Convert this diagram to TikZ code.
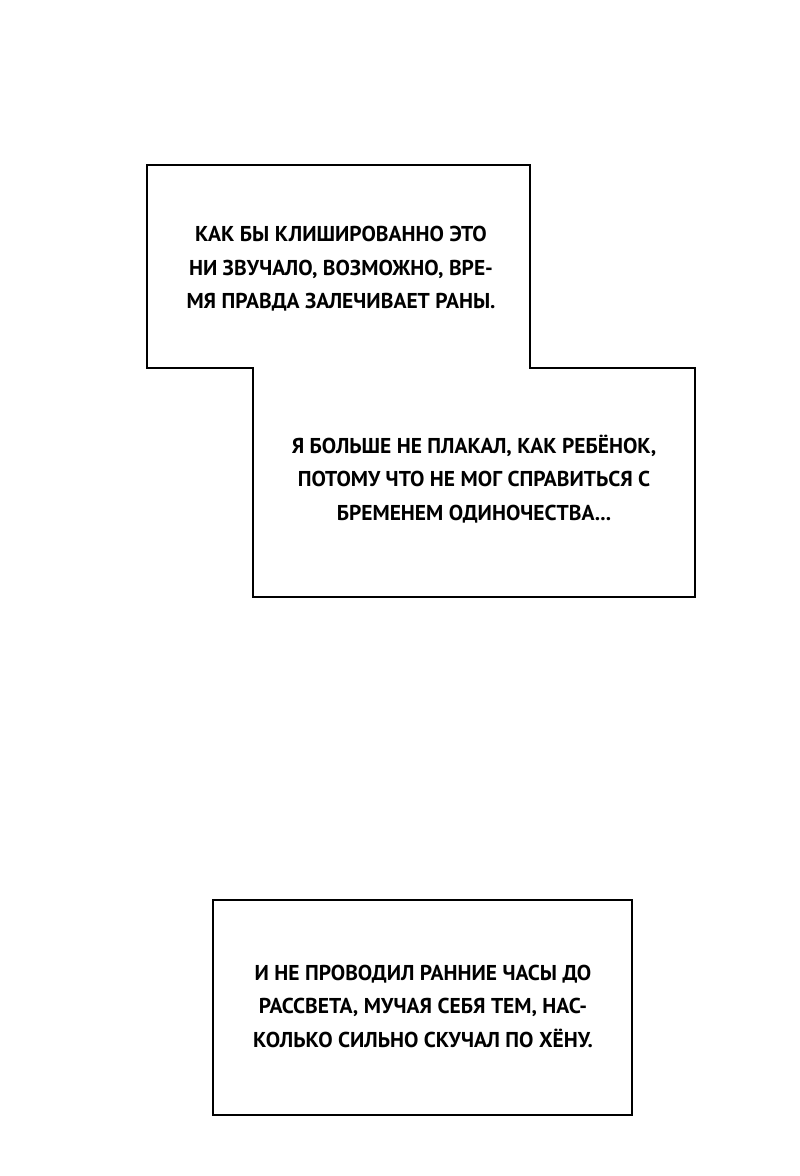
\documentclass[tikz,border=0pt]{standalone}
\usepackage{fontspec}
\setmainfont{PT Sans}
\begin{document}
\begin{tikzpicture}[x=1pt,y=-1pt,
  box/.style={draw=black,line width=2.4pt,line join=miter},
  txt/.style={align=center,font=\bfseries\fontsize{21.5}{33.5}\selectfont,inner sep=0pt}]
\useasboundingbox[fill=white] (0,0) rectangle (800,1176);
\draw[box] (147,165) -- (530,165) -- (530,368) -- (695,368) -- (695,597) -- (253,597) -- (253,368) -- (147,368) -- cycle;
\draw[box] (213,900) rectangle (632,1115);
\node[txt] (t1) at (341,269) {КАК БЫ КЛИШИРОВАННО ЭТО\\НИ ЗВУЧАЛО, ВОЗМОЖНО, ВРЕ-\\МЯ ПРАВДА ЗАЛЕЧИВАЕТ РАНЫ.};
\node[txt] (t2) at (474,479) {Я БОЛЬШЕ НЕ ПЛАКАЛ, КАК РЕБЁНОК,\\ПОТОМУ ЧТО НЕ МОГ СПРАВИТЬСЯ С\\БРЕМЕНЕМ ОДИНОЧЕСТВА...};
\node[txt] (t3) at (423,1006) {И НЕ ПРОВОДИЛ РАННИЕ ЧАСЫ ДО\\РАССВЕТА, МУЧАЯ СЕБЯ ТЕМ, НАС-\\КОЛЬКО СИЛЬНО СКУЧАЛ ПО ХЁНУ.};
\end{tikzpicture}
\end{document}
